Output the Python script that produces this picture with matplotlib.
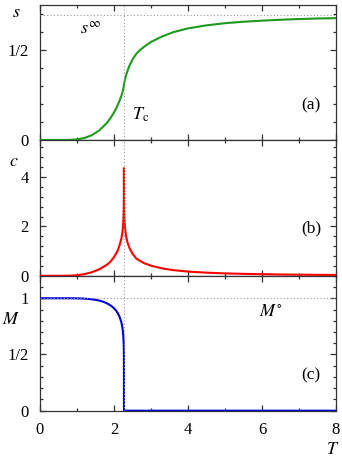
import matplotlib
matplotlib.use("Agg")
import matplotlib.pyplot as plt
from matplotlib.ticker import MultipleLocator, FixedLocator, FixedFormatter

# ---- data ----
T_s = [0, 0.5, 0.8, 1.0, 1.2, 1.4, 1.6, 1.8, 1.9, 2.0, 2.05, 2.1, 2.15, 2.2, 2.23,
       2.24, 2.25, 2.26, 2.265, 2.268, 2.269, 2.272, 2.275, 2.28, 2.29, 2.3, 2.33,
       2.37, 2.42, 2.46, 2.5, 2.6, 2.7, 2.8, 3.0, 3.3, 3.6, 4.0, 4.5, 5.0, 5.5,
       6.0, 6.5, 7.0, 7.5, 8.0]
s_vals = [0, 0, 0.0005, 0.0032, 0.011, 0.0265, 0.053, 0.093, 0.120, 0.153, 0.172,
          0.194, 0.218, 0.246, 0.267, 0.275, 0.284, 0.294, 0.300, 0.3043, 0.3065,
          0.311, 0.3147, 0.3204, 0.330, 0.339, 0.362, 0.387, 0.414, 0.430, 0.447,
          0.478, 0.499, 0.516, 0.545, 0.575, 0.599, 0.620, 0.637, 0.649, 0.657,
          0.663, 0.668, 0.672, 0.675, 0.677]

T_cv = [0, 0.5, 0.8, 1.0, 1.2, 1.4, 1.6, 1.8, 1.9, 2.0, 2.05, 2.1, 2.15, 2.2, 2.23,
        2.25, 2.26, 2.265, 2.268, 2.2692, 2.270, 2.272, 2.275, 2.28, 2.29, 2.3,
        2.33, 2.37, 2.42, 2.5, 2.6, 2.8, 3.0, 3.3, 3.6, 4.0, 4.5, 5.0, 5.5, 6.0,
        6.5, 7.0, 7.5, 8.0]
c_vals = [0, 0.0, 0.005, 0.023, 0.067, 0.144, 0.262, 0.44, 0.56, 0.76, 0.88, 1.02,
          1.24, 1.51, 1.79, 2.14, 2.50, 2.89, 3.51, 4.36, 3.71, 3.09, 2.73, 2.42,
          2.10, 1.91, 1.57, 1.32, 1.12, 0.90, 0.70, 0.52, 0.41, 0.30, 0.23, 0.171,
          0.127, 0.098, 0.078, 0.064, 0.053, 0.045, 0.039, 0.034]

T_m = [0, 0.5, 0.8, 1.0, 1.2, 1.4, 1.5, 1.6, 1.7, 1.8, 1.9, 2.0, 2.05, 2.1, 2.15,
       2.2, 2.23, 2.25, 2.26, 2.265, 2.268, 2.269, 2.2692, 3.0, 4.0, 5.0, 6.0,
       7.0, 8.0]
m_vals = [1, 1, 1, 0.9993, 0.9970, 0.9914, 0.9864, 0.9796, 0.9701, 0.9569, 0.9383,
          0.9113, 0.8928, 0.8688, 0.8357, 0.7866, 0.7331, 0.671, 0.6135, 0.556,
          0.475, 0.378, 0, 0, 0, 0, 0, 0, 0]

T_crit = 2.2692
s_inf = 0.6931
M_inf = 1.0

x_ticks = [0, 2, 4, 6, 8]
x_ticklabels = ["0", "2", "4", "6", "8"]

plt.rcParams["font.family"] = ["Liberation Serif", "DejaVu Serif"]
plt.rcParams["mathtext.fontset"] = "stix"

fig = plt.figure(figsize=(3.42, 4.62), dpi=100)
W, H = 342.0, 462.0
left, right = 40.0, 336.0

def make_ax(top, bottom):
    return fig.add_axes([left / W, 1 - bottom / H, (right - left) / W, (bottom - top) / H])

ax_a = make_ax(5.0, 140.0)
ax_b = make_ax(140.0, 275.8)
ax_c = make_ax(275.8, 410.7)

dot_kw = dict(color="#9a9a9a", lw=0.8, ls=(0, (1, 2)), zorder=4)
spine_col = "#333333"

for ax in (ax_a, ax_b, ax_c):
    ax.set_xlim(0, 8)
    ax.xaxis.set_major_locator(FixedLocator(x_ticks))
    ax.xaxis.set_minor_locator(MultipleLocator(1))
    ax.tick_params(which="both", direction="in", top=True, right=True,
                   color=spine_col, labelsize=12)
    ax.tick_params(axis="y", pad=8)
    ax.tick_params(axis="x", pad=8)
    ax.tick_params(which="major", length=4.5, width=0.9)
    ax.tick_params(which="minor", length=2.4, width=0.9)
    for sp in ax.spines.values():
        sp.set_color(spine_col)
        sp.set_linewidth(0.9)
    ax.axvline(T_crit, **dot_kw)

for ax in (ax_a, ax_b):
    ax.tick_params(labelbottom=False)
ax_c.xaxis.set_major_formatter(FixedFormatter(x_ticklabels))

# (a) entropy
ax_a.plot(T_s, s_vals, color="#1e9a1e", lw=1.5, zorder=3)
ax_a.axhline(s_inf, **dot_kw)
ax_a.set_ylim(0, 0.75)
ax_a.yaxis.set_major_locator(FixedLocator([0, 0.5]))
ax_a.yaxis.set_major_formatter(FixedFormatter(["0", "1/2"]))
ax_a.yaxis.set_minor_locator(MultipleLocator(0.1))
ax_a.set_ylabel(r"$s$", rotation=0, fontsize=13, va="center", ha="center")
ax_a.yaxis.set_label_coords(-0.081, 0.948)
ax_a.text(1.35, 0.615, r"$s^{\infty}$", fontsize=13, ha="center", va="center")
ax_a.text(2.73, 0.14, r"$T_{\mathrm{c}}$", fontsize=13, ha="center", va="center")
ax_a.text(7.32, 0.19, "(a)", fontsize=12.5, ha="center", va="center")

# (b) specific heat
ax_b.plot(T_cv, c_vals, color="#ff0000", lw=1.5, zorder=3)
ax_b.set_ylim(0, 5.5)
ax_b.yaxis.set_major_locator(FixedLocator([0, 2, 4]))
ax_b.yaxis.set_major_formatter(FixedFormatter(["0", "2", "4"]))
ax_b.yaxis.set_minor_locator(MultipleLocator(0.4))
ax_b.set_ylabel(r"$c$", rotation=0, fontsize=13, va="center", ha="center")
ax_b.yaxis.set_label_coords(-0.088, 0.838)
ax_b.text(7.32, 1.94, "(b)", fontsize=12.5, ha="center", va="center")

# (c) magnetization
ax_c.plot(T_m, m_vals, color="#0000d8", lw=1.5, zorder=3)
ax_c.axhline(M_inf, **dot_kw)
ax_c.set_ylim(0, 1.2)
ax_c.yaxis.set_major_locator(FixedLocator([0, 0.5, 1]))
ax_c.yaxis.set_major_formatter(FixedFormatter(["0", "1/2", "1"]))
ax_c.yaxis.set_minor_locator(MultipleLocator(0.1))
ax_c.set_ylabel(r"$M$", rotation=0, fontsize=13, va="center", ha="center")
ax_c.yaxis.set_label_coords(-0.098, 0.673)
ax_c.text(6.24, 0.88, r"$M^{\circ}$", fontsize=13, ha="center", va="center")
ax_c.text(7.32, 0.31, "(c)", fontsize=12.5, ha="center", va="center")
ax_c.set_xlabel(r"$T$", fontsize=13, va="center", ha="center")
ax_c.xaxis.set_label_coords(0.99, -0.284)

fig.savefig("out.png", dpi=100)
